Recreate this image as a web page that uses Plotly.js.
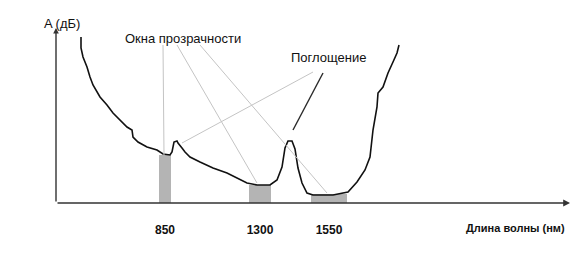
<!DOCTYPE html>
<html>
<head>
<meta charset="utf-8">
<script src="https://cdn.plot.ly/plotly-3.0.1.min.js"></script>
<style>html,body{margin:0;padding:0;background:#fff;}#chart{width:588px;height:260px;}</style>
</head>
<body>
<div id="chart"></div>
<script>
// Schematic attenuation curve (arbitrary units, diagram not to scale)
const curveX = [25,25,27,31,34,37,44,51,57,64,71,76,77,82,91,101,107,114,116,118,121,122,124,126,129,134,144,157,171,181,191,201,214,221,226,229,232,236,239,242,246,251,257,277,287,292,301,309,314,317,321,322,327,332,337,341,343];
const curveY = [166,155,146,136,126,118,106,98,90,83,76,73,66,61,56,53,49,48,51,61,62,60,58,55,51,46,41,35,30,25,20,18,18,23,36,55,62,62,54,35,20,10,8,8,10,11,21,33,46,73,96,110,116,130,141,150,158];

// Transparency windows
const windowLabels = ['850', '1300', '1550'];
const windowStart = [103, 193, 255];
const windowEnd = [115, 215, 291];
const windowTop = [48, 18, 9];

// Absorption peaks (schematic position, level)
const peakX = [121, 234];
const peakY = [62, 62];

const axisTitleX = 'Длина волны (нм)';
const axisTitleY = 'A (дБ)';
const windowsText = 'Окна прозрачности';
const absorptionText = 'Поглощение';

const winCenter = windowStart.map((s, i) => (s + windowEnd[i]) / 2);
const winWidth = windowStart.map((s, i) => windowEnd[i] - s);

const traces = [
  {
    type: 'bar', x: winCenter, y: windowTop, width: winWidth,
    marker: {color: '#b4b4b4', line: {width: 0}}, hoverinfo: 'skip', showlegend: false
  },
  {
    type: 'scatter', mode: 'lines', x: curveX, y: curveY,
    line: {color: '#111', width: 1.6}, hoverinfo: 'skip', showlegend: false
  }
];

const gray = '#c4c4c4';
const shapes = [
  {type: 'line', xref: 'x', yref: 'y', x0: 107, y0: 158, x1: winCenter[0] - 1, y1: windowTop[0], line: {color: gray, width: 1}},
  {type: 'line', xref: 'x', yref: 'y', x0: 121, y0: 158, x1: winCenter[1] - 3, y1: windowTop[1] + 2, line: {color: gray, width: 1}},
  {type: 'line', xref: 'x', yref: 'y', x0: 144, y0: 158, x1: winCenter[2] - 2, y1: windowTop[2] + 1, line: {color: gray, width: 1}},
  {type: 'line', xref: 'x', yref: 'y', x0: 257, y0: 131, x1: peakX[0] + 5, y1: peakY[0] - 2, line: {color: gray, width: 1}},
  {type: 'line', xref: 'x', yref: 'y', x0: 267, y0: 130, x1: peakX[1] + 3, y1: peakY[1] + 11, line: {color: '#2a2a2a', width: 1.4}}
];

const annotations = [
  // axes with arrows
  {x: 514, y: 0, ax: 0, ay: 0, xref: 'x', yref: 'y', axref: 'x', ayref: 'y', text: '', showarrow: true,
   arrowhead: 2, arrowsize: 0.8, arrowwidth: 1.7, arrowcolor: '#333'},
  {x: 0, y: 175, ax: 0, ay: 0, xref: 'x', yref: 'y', axref: 'x', ayref: 'y', text: '', showarrow: true,
   arrowhead: 2, arrowsize: 0.8, arrowwidth: 1.4, arrowcolor: '#333'},
  {x: -0.027, y: 1.011, xref: 'paper', yref: 'paper', xanchor: 'left', yanchor: 'middle', showarrow: false,
   text: axisTitleY, font: {size: 13, color: '#111'}},
  {x: 0.994, y: -0.14, xref: 'paper', yref: 'paper', xanchor: 'right', yanchor: 'middle', showarrow: false,
   text: '<b>' + axisTitleX + '</b>', font: {size: 11, color: '#111'}},
  {x: 127, y: 165, xref: 'x', yref: 'y', xanchor: 'center', yanchor: 'middle', showarrow: false,
   text: windowsText, font: {size: 13, color: '#111'}},
  {x: 272, y: 146, xref: 'x', yref: 'y', xanchor: 'center', yanchor: 'middle', showarrow: false,
   text: absorptionText, font: {size: 13, color: '#111'}}
];

const layout = {
  width: 588, height: 260,
  margin: {l: 56, r: 18, t: 25, b: 57, pad: 0},
  paper_bgcolor: '#fff', plot_bgcolor: '#fff',
  font: {family: 'Liberation Sans, Arial, sans-serif', color: '#111'},
  showlegend: false,
  bargap: 0,
  xaxis: {
    range: [0, 514], showgrid: false, zeroline: false, showline: false,
    tickmode: 'array', tickvals: winCenter, ticktext: windowLabels.map(t => '<b>' + t + '</b>'),
    ticks: 'outside', ticklen: 16, tickcolor: 'rgba(0,0,0,0)',
    tickfont: {size: 12, color: '#111'}, fixedrange: true
  },
  yaxis: {
    range: [0, 178], showgrid: false, zeroline: false, showline: false,
    showticklabels: false, ticks: '', fixedrange: true
  },
  shapes: shapes,
  annotations: annotations
};

Plotly.newPlot('chart', traces, layout, {staticPlot: true, displayModeBar: false});
</script>
</body>
</html>
